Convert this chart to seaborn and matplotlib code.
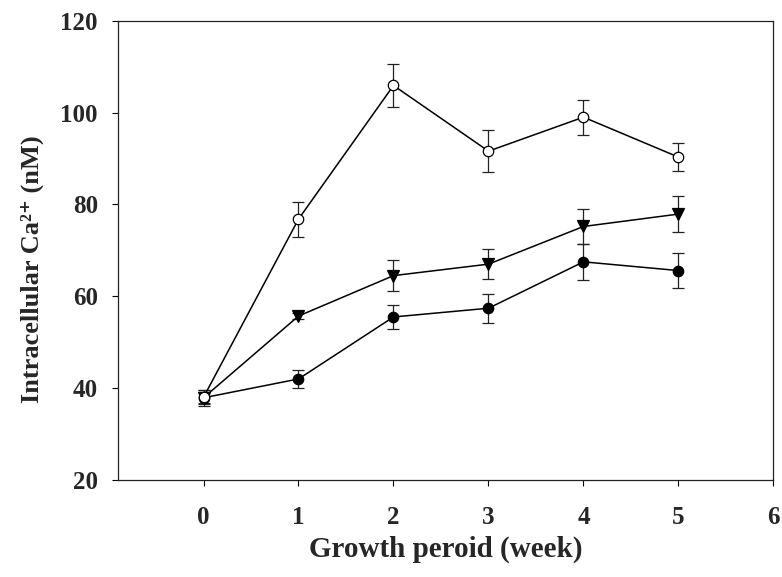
import matplotlib
matplotlib.use("Agg")
import matplotlib.pyplot as plt
import seaborn as sns
import pandas as pd
import numpy as np

weeks = [0, 1, 2, 3, 4, 5]
open_circle = [38.0, 76.8, 105.9, 91.6, 99.0, 90.3]
open_circle_err = [1.5, 3.8, 4.7, 4.5, 3.8, 3.1]
triangle = [37.9, 55.7, 64.5, 67.0, 75.2, 77.9]
triangle_err = [1.2, 0.6, 3.4, 3.2, 3.9, 3.9]
filled_circle = [37.9, 42.0, 55.5, 57.4, 67.5, 65.6]
filled_circle_err = [1.75, 1.9, 2.6, 3.2, 3.9, 3.9]

x_ticks = [0, 1, 2, 3, 4, 5, 6]
y_ticks = [20, 40, 60, 80, 100, 120]

sns.set_theme(style="ticks")
plt.rcParams['font.family'] = ['Liberation Serif', 'DejaVu Serif']

fig = plt.figure(figsize=(7.82, 5.77), dpi=100)
ax = fig.add_axes([0.1509, 0.1681, 0.9891 - 0.1509, 0.9641 - 0.1681])

series = [
    (filled_circle, filled_circle_err, 'o', 7.5, 'black'),
    (triangle, triangle_err, 'v', 8.5, 'black'),
    (open_circle, open_circle_err, 'o', 7.5, 'white'),
]

for vals, errs, mk, ms, fc in series:
    df = pd.DataFrame({'week': weeks, 'val': vals})
    ax.errorbar(weeks, vals, yerr=errs, fmt='none', ecolor='#222222',
                elinewidth=0.9, capsize=4.5, capthick=0.9, zorder=2)
    sns.lineplot(data=df, x='week', y='val', ax=ax, color='black',
                 linewidth=1.1, marker=mk, markersize=ms,
                 markerfacecolor=fc, markeredgecolor='black',
                 markeredgewidth=0.9, zorder=3)

ax.set_xlim(-0.9, 6)
ax.set_ylim(20, 120)
ax.set_xticks(x_ticks)
ax.set_yticks(y_ticks)
ax.set_xticklabels([str(t) for t in x_ticks], fontsize=18, fontweight='bold')
ax.set_yticklabels([str(t) for t in y_ticks], fontsize=18, fontweight='bold')
ax.tick_params(axis='both', direction='out', length=4.5, width=0.8,
               color='black', top=False, right=False)
ax.tick_params(axis='y', pad=10)
ax.tick_params(axis='x', pad=14)

for sp in ax.spines.values():
    sp.set_visible(True)
    sp.set_linewidth(0.9)
    sp.set_color('#222222')

ax.set_xlabel('Growth peroid (week)', fontsize=21, fontweight='bold', labelpad=5)
ax.set_ylabel('Intracellular Ca\u00b2\u207a (nM)', fontsize=19,
              fontweight='bold', labelpad=12)
ax.yaxis.label.set_y(0.46)

fig.savefig('out.png', dpi=100, facecolor='white')
